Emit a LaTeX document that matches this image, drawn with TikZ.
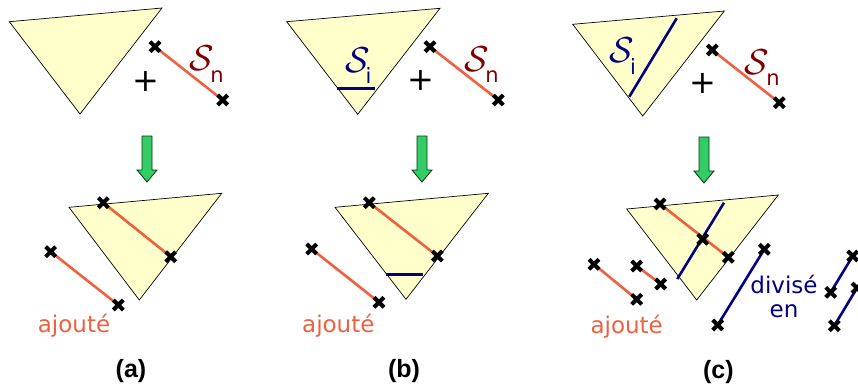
\documentclass[tikz,border=0pt]{standalone}
\usepackage{fontspec}
\setmainfont{DejaVu Sans}
\newfontfamily\labfont{Liberation Sans}
\definecolor{trifill}{RGB}{255,255,204}
\definecolor{segred}{RGB}{240,96,64}
\definecolor{darkred}{RGB}{128,0,0}
\definecolor{navyb}{RGB}{0,0,128}
\definecolor{arrgreen}{RGB}{51,204,102}
\newcommand{\bigcalS}{\scalebox{1.45}{$\mathcal{S}$}}
\tikzset{
  tri/.style={fill=trifill,draw=black,line width=0.7pt,line join=miter},
  redseg/.style={draw=segred,line width=2.6pt},
  blueseg/.style={draw=navyb,line width=2.6pt},
  xmark/.pic={\draw[line width=4pt,black] (-5,-5)--(5,5) (-5,5)--(5,-5);},
  greenarr/.pic={\draw[fill=arrgreen,draw=black!60!green!60!black,line width=0.8pt] (-5,0)--(5,0)--(5,34)--(10,34)--(0,46)--(-10,34)--(-5,34)--cycle;},
  calS/.style={font=\fontsize{24.88}{28}\selectfont,inner sep=0pt},
  subtxt/.style={font=\fontsize{21}{24}\selectfont,inner sep=0pt},
  bigtxt/.style={font=\fontsize{23}{27}\selectfont,inner sep=0pt},
  plustxt/.style={font=\fontsize{32}{36}\selectfont,inner sep=0pt},
  captxt/.style={font=\labfont\bfseries\fontsize{25}{29}\selectfont,inner sep=0pt},
}
\begin{document}
\begin{tikzpicture}[x=1pt,y=-1pt]
\useasboundingbox (0,0) rectangle (858,389);
% ================= (a) =================
\draw[tri] (9.3,21.7) -- (162,8) -- (80,114) -- cycle;
\coordinate (a1) at (155,46.7); \coordinate (a2) at (222.7,100);
\draw[redseg] (a1) -- (a2);
\pic at (a1) {xmark}; \pic at (a2) {xmark};
\node[calS,text=darkred] (aS) at (201.7,58) {\bigcalS};
\node[subtxt,text=darkred] (an) at (217,77) {n};
\node[plustxt] (aplus) at (146,81) {+};
\pic at (147,136) {greenarr};
\draw[tri] (69,207.3) -- (221.7,193.3) -- (139.3,300) -- cycle;
\coordinate (a3) at (103.3,202.7); \coordinate (a4) at (170.7,256.7);
\coordinate (a5) at (50.7,251.7); \coordinate (a6) at (118.3,305);
\draw[redseg] (a3) -- (a4);
\draw[redseg] (a5) -- (a6);
\foreach \p in {a3,a4,a5,a6} \pic at (\p) {xmark};
\node[bigtxt,text=segred] (aaj) at (74,326) {ajouté};
\node[captxt] (acap) at (131,370.7) {(a)};
% ================= (b) =================
\draw[tri] (286.7,21.7) -- (440,8.3) -- (357.7,114.3) -- cycle;
\coordinate (bi1) at (337.3,88.3); \coordinate (bi2) at (375,88.3);
\draw[blueseg] (bi1) -- (bi2);
\node[calS,text=navyb] (bS) at (357.7,60) {\bigcalS};
\node[subtxt,text=navyb] (bi) at (368.5,76) {i};
\coordinate (b1) at (430,46.7); \coordinate (b2) at (498.3,100);
\draw[redseg] (b1) -- (b2);
\pic at (b1) {xmark}; \pic at (b2) {xmark};
\node[calS,text=darkred] (bSn) at (476.7,59) {\bigcalS};
\node[subtxt,text=darkred] (bn) at (492,77) {n};
\node[plustxt] (bplus) at (421,80) {+};
\pic at (422,136) {greenarr};
\draw[tri] (335,207.3) -- (488.3,193.3) -- (406,299.3) -- cycle;
\coordinate (b3) at (369.3,202.7); \coordinate (b4) at (437.3,256);
\coordinate (b5) at (311.7,249); \coordinate (b6) at (379,302.3);
\coordinate (bi3) at (386,274.3); \coordinate (bi4) at (422.7,274.3);
\draw[redseg] (b3) -- (b4);
\draw[redseg] (b5) -- (b6);
\draw[blueseg] (bi3) -- (bi4);
\foreach \p in {b3,b4,b5,b6} \pic at (\p) {xmark};
\node[bigtxt,text=segred] (baj) at (338.3,325.7) {ajouté};
\node[captxt] (bcap) at (404,370.7) {(b)};
% ================= (c) =================
\draw[tri] (572.7,24.3) -- (724.3,11) -- (642.7,116) -- cycle;
\coordinate (ci1) at (676.7,18.3); \coordinate (ci2) at (629.3,96.7);
\draw[blueseg] (ci1) -- (ci2);
\node[calS,text=navyb] (cS) at (621.7,50) {\bigcalS};
\node[subtxt,text=navyb] (ci) at (633,66.7) {i};
\coordinate (c1) at (712.3,50); \coordinate (c2) at (779.3,102.7);
\draw[redseg] (c1) -- (c2);
\pic at (c1) {xmark}; \pic at (c2) {xmark};
\node[calS,text=darkred] (cSn) at (756.7,61.7) {\bigcalS};
\node[subtxt,text=darkred] (cn) at (773,80) {n};
\node[plustxt] (cplus) at (703.3,83.3) {+};
\pic at (704,137) {greenarr};
\draw[tri] (626.7,209) -- (778.3,195) -- (696.7,300) -- cycle;
\coordinate (c3) at (660,204); \coordinate (c4) at (728.3,257.3);
\coordinate (cm) at (702.7,239.3);
\coordinate (ci3) at (724,202.7); \coordinate (ci4) at (677.3,279);
\draw[redseg] (c3) -- (c4);
\draw[blueseg] (ci3) -- (ci4);
\coordinate (c5) at (594,264.3); \coordinate (c6) at (636.7,299.3);
\coordinate (c7) at (636.7,266); \coordinate (c8) at (660.7,284);
\draw[redseg] (c5) -- (c6);
\draw[redseg] (c7) -- (c8);
\coordinate (d1) at (764.3,249.3); \coordinate (d2) at (717.7,325);
\coordinate (d3) at (852.7,256); \coordinate (d4) at (830.7,292.3);
\coordinate (d5) at (857,288); \coordinate (d6) at (834.3,325.7);
\draw[blueseg] (d1) -- (d2);
\draw[blueseg] (d3) -- (d4);
\draw[blueseg] (d5) -- (d6);
\foreach \p in {c3,c4,cm,c5,c6,c7,c8,d1,d2,d3,d4,d5,d6} \pic at (\p) {xmark};
\node[bigtxt,text=segred] (caj) at (626.7,326.7) {ajouté};
\node[bigtxt,text=navyb] (cdiv) at (784,284) {divisé};
\node[bigtxt,text=navyb] (cen) at (784,311.7) {en};
\node[captxt] (ccap) at (718.3,371.7) {(c)};
\end{tikzpicture}
\end{document}
